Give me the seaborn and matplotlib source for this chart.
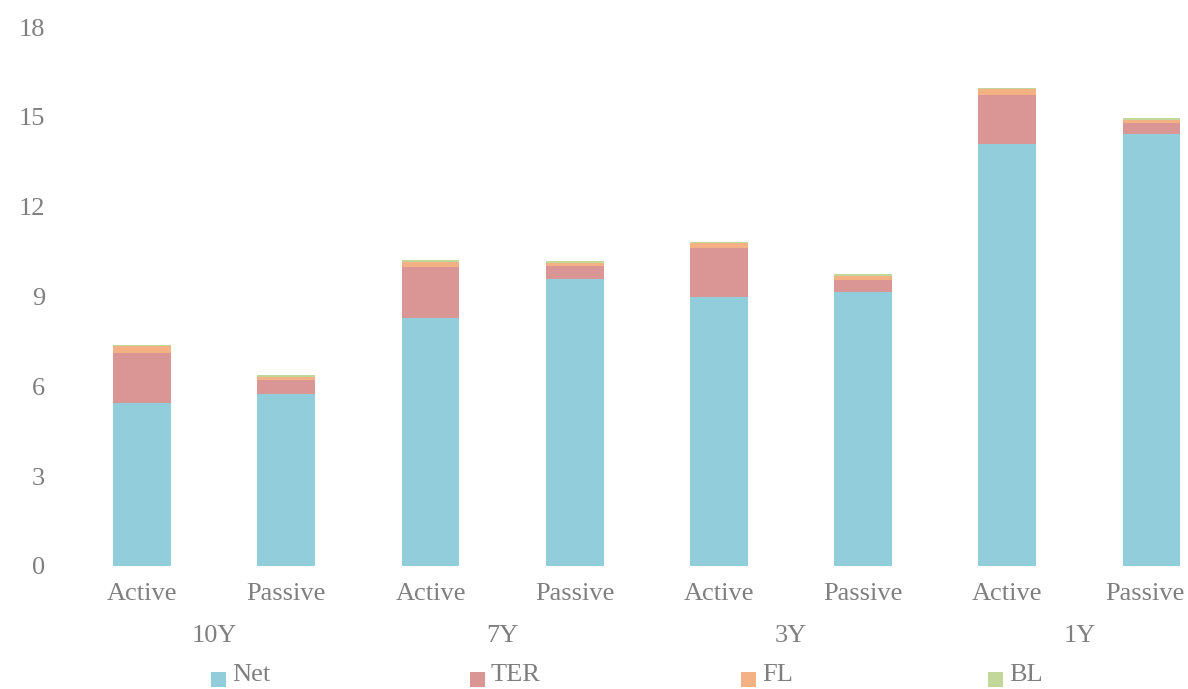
import matplotlib
matplotlib.use("Agg")
import matplotlib.pyplot as plt
import seaborn as sns
import pandas as pd
import numpy as np
from matplotlib.patches import Rectangle
import matplotlib.transforms as mtransforms

groups = ["10Y", "7Y", "3Y", "1Y"]
styles = ["Active", "Passive"]
net = [5.44, 5.75, 8.29, 9.59, 8.98, 9.15, 14.10, 14.43]
ter = [1.67, 0.46, 1.70, 0.43, 1.65, 0.40, 1.63, 0.37]
fl = [0.24, 0.10, 0.17, 0.10, 0.16, 0.14, 0.19, 0.11]
bl = [0.03, 0.06, 0.06, 0.06, 0.04, 0.05, 0.05, 0.05]
series = ["Net", "TER", "FL", "BL"]
colors = {"Net": "#92CDDC", "TER": "#DA9694", "FL": "#F4B183", "BL": "#C4D79B"}
yticks = [0, 3, 6, 9, 12, 15, 18]

sns.set_theme(style="white")
plt.rcParams["font.family"] = ["Liberation Serif", "DejaVu Serif"]
grey = "#7f7f7f"
FS = 19

W, H = 1188, 689
cats = [f"{g} {s}" for g in groups for s in styles]
df = pd.DataFrame({"cat": cats, "Net": net, "TER": ter, "FL": fl, "BL": bl})
df["c_TER"] = df["Net"] + df["TER"]
df["c_FL"] = df["c_TER"] + df["FL"]
df["c_BL"] = df["c_FL"] + df["BL"]

fig = plt.figure(figsize=(W / 100, H / 100), dpi=100)
ax = fig.add_axes([70 / W, 1 - 566 / H, (W - 70) / W, (566 - 27) / H])

for col, name in [("c_BL", "BL"), ("c_FL", "FL"), ("c_TER", "TER"), ("Net", "Net")]:
    sns.barplot(data=df, x="cat", y=col, order=cats, color=colors[name],
                saturation=1, width=0.4, ax=ax, linewidth=0, edgecolor="none")

ax.set_xlim(-0.5, (W - 70) / 144.2 - 0.5)
ax.set_ylim(0, 18)
ax.set_yticks(yticks)
ax.set_yticklabels([str(t) for t in yticks], fontsize=FS, color=grey)
ax.set_xticks(range(len(cats)))
ax.set_xticklabels([s for g in groups for s in styles], fontsize=FS, color=grey)
ax.tick_params(axis="y", length=0, pad=18)
ax.tick_params(axis="x", length=0, pad=12)
ax.set_xlabel("")
ax.set_ylabel("")
for sp in ax.spines.values():
    sp.set_visible(False)

# nudge the last category label inward so it stays inside the figure (as Excel does)
last = ax.get_xticklabels()[-1]
last.set_transform(last.get_transform() +
                   mtransforms.ScaledTranslation(-7 / 100, 0, fig.dpi_scale_trans))

trans = mtransforms.blended_transform_factory(ax.transData, ax.transAxes)
for i, g in enumerate(groups):
    ax.text(2 * i + 0.5, (566 - 642) / 539, g, transform=trans, ha="center", va="baseline",
            fontsize=FS, color=grey)

# legend (manual, Excel-style: square markers sitting low beside the text)
leg_x = [211, 470, 741, 988]
for x0, s in zip(leg_x, series):
    fig.add_artist(Rectangle((x0 / W, 1 - 687 / H), 15 / W, 15 / H,
                             transform=fig.transFigure, facecolor=colors[s],
                             edgecolor="none"))
    fig.text((x0 + 21) / W, 1 - 681 / H, s, ha="left", va="baseline",
             fontsize=FS, color=grey)

fig.savefig("out.png", dpi=100)
